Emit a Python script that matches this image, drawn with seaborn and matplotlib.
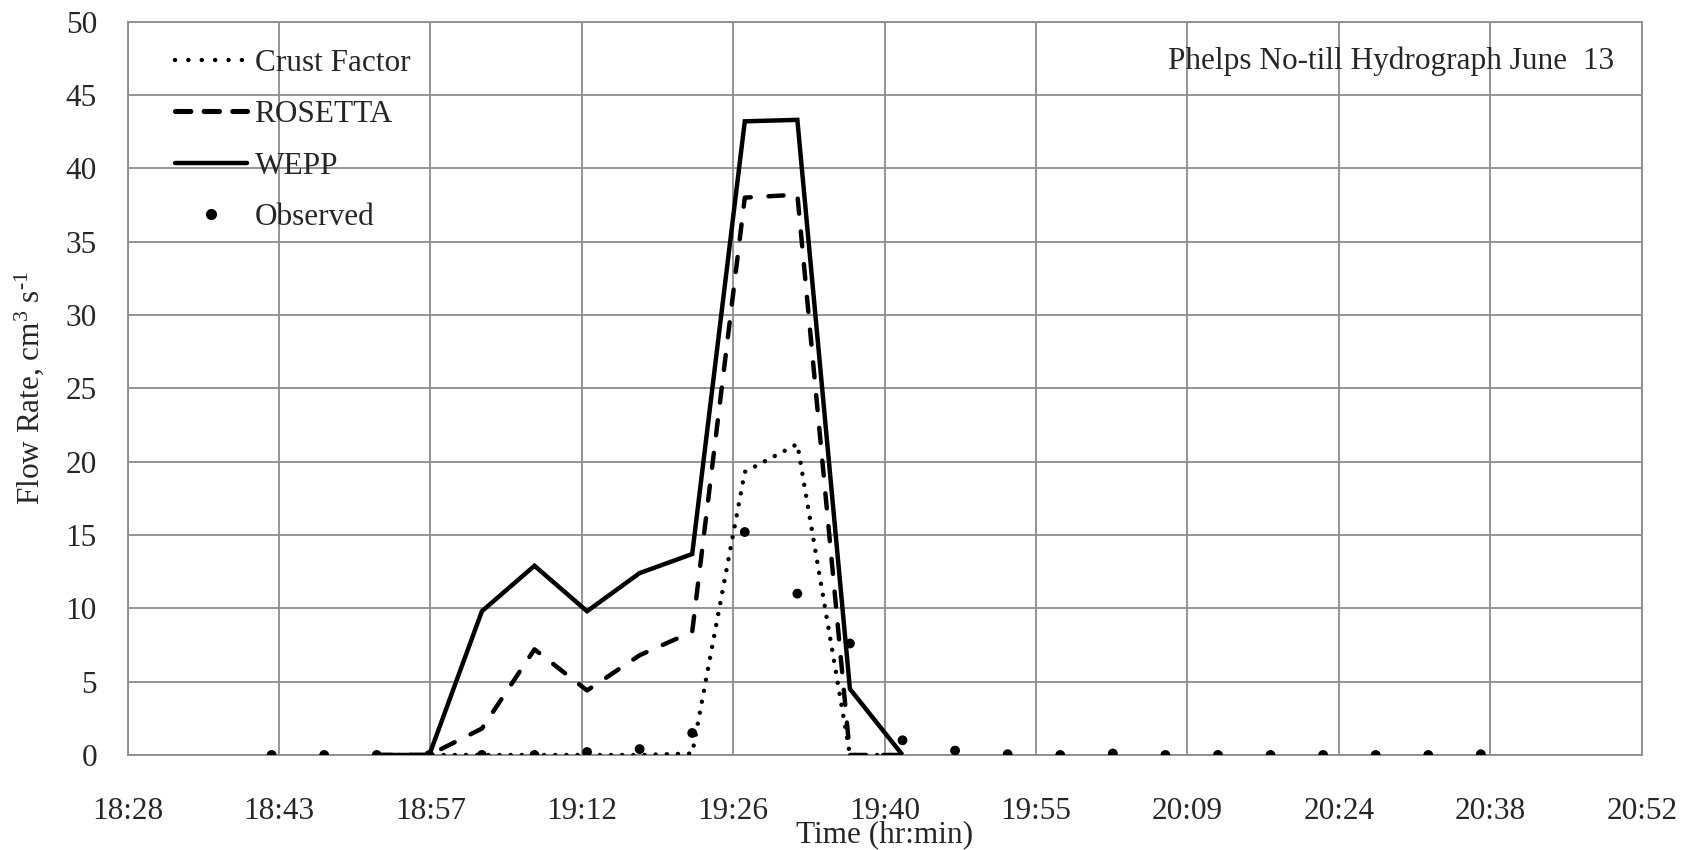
import numpy as np
import pandas as pd
import matplotlib
matplotlib.use("Agg")
import matplotlib.pyplot as plt
import seaborn as sns
from matplotlib.lines import Line2D

# ---- data ----
obs_times = ["18:42:30", "18:47:30", "18:52:30", "18:57:30", "19:02:30", "19:07:30",
             "19:12:30", "19:17:30", "19:22:30", "19:27:30", "19:32:30", "19:37:30",
             "19:42:30", "19:47:30", "19:52:30", "19:57:30", "20:02:30", "20:07:30",
             "20:12:30", "20:17:30", "20:22:30", "20:27:30", "20:32:30", "20:37:30"]
observed = [0.0, 0.0, 0.0, 0.0, 0.0, 0.0, 0.2, 0.4, 1.5, 15.2, 11.0, 7.6,
            1.0, 0.3, 0.05, 0.0, 0.1, 0.0, 0.0, 0.0, 0.0, 0.0, 0.0, 0.05]

model_times = ["18:52:30", "18:57:30", "19:02:30", "19:07:30", "19:12:30", "19:17:30",
               "19:22:30", "19:27:30", "19:32:30", "19:37:30", "19:42:30"]
wepp = [0.0, 0.0, 9.8, 12.9, 9.8, 12.4, 13.7, 43.2, 43.3, 4.5, 0.0]
rosetta = [0.0, 0.0, 1.8, 7.2, 4.4, 6.8, 8.4, 38.0, 38.2, 0.0, 0.0]
crust = [0.0, 0.0, 0.0, 0.0, 0.0, 0.0, 0.1, 19.3, 21.2, 0.0, 0.0]

x_ticks_day = [0.77, 0.78, 0.79, 0.80, 0.81, 0.82, 0.83, 0.84, 0.85, 0.86, 0.87]
y_ticks = [0, 5, 10, 15, 20, 25, 30, 35, 40, 45, 50]


def to_min(s):
    h, m, sec = [int(v) for v in s.split(":")]
    return h * 60 + m + sec / 60.0


obs_df = pd.DataFrame({"t": [to_min(s) for s in obs_times], "q": observed})
mod_t = [to_min(s) for s in model_times]
mod_df = pd.concat([
    pd.DataFrame({"t": mod_t, "q": crust, "model": "Crust Factor"}),
    pd.DataFrame({"t": mod_t, "q": rosetta, "model": "ROSETTA"}),
    pd.DataFrame({"t": mod_t, "q": wepp, "model": "WEPP"}),
])

# ---- style ----
sns.set_style("white")
plt.rcParams["font.family"] = ["Liberation Serif", "DejaVu Serif"]
plt.rcParams["mathtext.fontset"] = "custom"
plt.rcParams["mathtext.rm"] = "Liberation Serif"
plt.rcParams["mathtext.it"] = "Liberation Serif:italic"

fig = plt.figure(figsize=(16.96, 8.5), dpi=100)
ax = fig.add_axes([0.0752, 0.1118, 0.968 - 0.0752, 0.9746 - 0.1118])

lw = 3.2
dot_dash = (0.01, 2.5)
long_dash = (3.4, 4.0)
sns.lineplot(data=mod_df, x="t", y="q", hue="model", style="model",
             palette={"Crust Factor": "black", "ROSETTA": "black", "WEPP": "black"},
             dashes={"Crust Factor": dot_dash, "ROSETTA": long_dash, "WEPP": ""},
             linewidth=lw, ax=ax, legend=False, zorder=3)
for ln in ax.get_lines():
    ln.set_dash_capstyle("round")
    ln.set_solid_capstyle("butt")
    ln.set_solid_joinstyle("miter")
sns.scatterplot(data=obs_df, x="t", y="q", color="black", s=50, edgecolor="none",
                ax=ax, zorder=4)

xmin, xmax = x_ticks_day[0] * 1440, x_ticks_day[-1] * 1440
ax.set_xlim(xmin, xmax)
ax.set_ylim(0, 50)
xt = [d * 1440 for d in x_ticks_day]
ax.set_xticks(xt)
ax.set_xticklabels([f"{int(m // 60)}:{int(m % 60):02d}" for m in xt])
ax.set_yticks(y_ticks)
ax.tick_params(axis="both", length=0, labelsize=22.5)
ax.tick_params(axis="x", pad=30)
ax.tick_params(axis="y", pad=22)
ax.grid(True, color="#8c8c8c", linewidth=1.3)
ax.set_axisbelow(True)
for sp in ax.spines.values():
    sp.set_color("#8c8c8c")
    sp.set_linewidth(1.3)

ax.set_xlabel("Time (hr:min)", fontsize=22.5, labelpad=-4)
ax.set_ylabel(r"Flow Rate, cm$^{3}$ s$^{\text{-1}}$", fontsize=22.5, labelpad=14)

ax.text(0.982, 0.946, "Phelps No-till Hydrograph June  13", transform=ax.transAxes,
        ha="right", va="center", fontsize=22.5)

handles = [
    Line2D([], [], color="black", lw=lw, dashes=(0.01, 3.0), dash_capstyle="round"),
    Line2D([], [], color="black", lw=lw * 1.15, dashes=(3.0, 2.6), dash_capstyle="round"),
    Line2D([], [], color="black", lw=lw),
    Line2D([], [], color="black", lw=0, marker="o", markersize=7),
]
leg = ax.legend(handles, ["Crust Factor", "ROSETTA", "WEPP", "Observed"],
                loc="upper left", bbox_to_anchor=(0.023, 0.98), frameon=False,
                fontsize=22.5, handlelength=2.3, handletextpad=0.25,
                labelspacing=0.72, borderaxespad=0)

fig.savefig("out.png", dpi=100)
